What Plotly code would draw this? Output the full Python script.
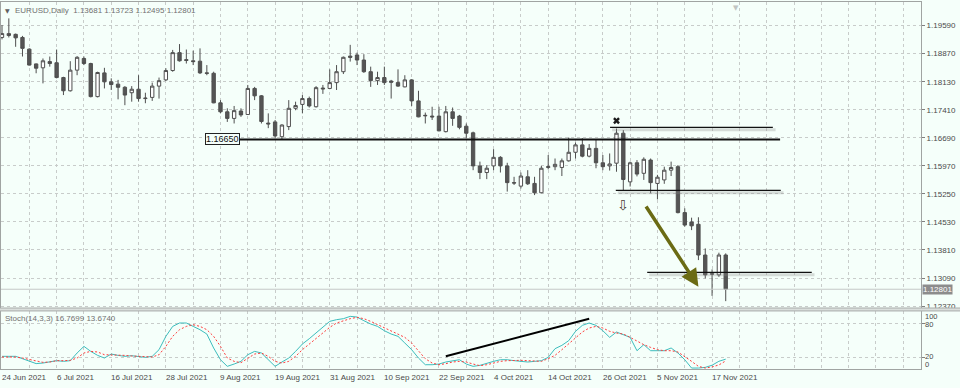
import plotly.graph_objects as go

# ---------------- data ----------------
date_labels = ["24 Jun 2021", "6 Jul 2021", "16 Jul 2021", "28 Jul 2021", "9 Aug 2021",
               "19 Aug 2021", "31 Aug 2021", "10 Sep 2021", "22 Sep 2021", "4 Oct 2021",
               "14 Oct 2021", "26 Oct 2021", "5 Nov 2021", "17 Nov 2021"]
date_label_bars = [0, 8, 16, 24, 32, 40, 48, 56, 64, 72, 80, 88, 96, 104]

opens = [1.1927, 1.1932, 1.1935, 1.1927, 1.1897, 1.1859, 1.1849, 1.1865, 1.1862, 1.1824,
         1.1790, 1.1843, 1.1873, 1.1860, 1.1775, 1.1836, 1.1813, 1.1807, 1.1799, 1.1785,
         1.1794, 1.1770, 1.1773, 1.1802, 1.1818, 1.1842, 1.1888, 1.1870, 1.1867, 1.1866,
         1.1836, 1.1835, 1.1759, 1.1736, 1.1719, 1.1738, 1.1729, 1.1796, 1.1777, 1.1707,
         1.1710, 1.1672, 1.1698, 1.1745, 1.1755, 1.1770, 1.1749, 1.1797, 1.1796, 1.1811,
         1.1839, 1.1879, 1.1882, 1.1869, 1.1839, 1.1816, 1.1824, 1.1815, 1.1811, 1.1800,
         1.1818, 1.1764, 1.1727, 1.1725, 1.1725, 1.1685, 1.1736, 1.1725, 1.1699, 1.1682,
         1.1597, 1.1580, 1.1597, 1.1619, 1.1597, 1.1554, 1.1545, 1.1569, 1.1552, 1.1528,
         1.1593, 1.1595, 1.1593, 1.1610, 1.1632, 1.1651, 1.1622, 1.1642, 1.1605, 1.1597,
         1.1604, 1.1681, 1.1556, 1.1605, 1.1578, 1.1612, 1.1552, 1.1561, 1.1586, 1.1595,
         1.1477, 1.1453, 1.1447, 1.1368, 1.1320, 1.1317, 1.13681]
highs = [1.1959, 1.1976, 1.1937, 1.1931, 1.1899, 1.1860, 1.1873, 1.1878, 1.1896, 1.1826,
         1.1866, 1.1879, 1.1878, 1.1862, 1.1839, 1.1849, 1.1822, 1.1818, 1.1802, 1.1802,
         1.1830, 1.1785, 1.1811, 1.1824, 1.1848, 1.1895, 1.1910, 1.1896, 1.1893, 1.1899,
         1.1856, 1.1839, 1.1766, 1.1745, 1.1751, 1.1745, 1.1805, 1.1800, 1.1779, 1.1732,
         1.1715, 1.1704, 1.1766, 1.1762, 1.1779, 1.1775, 1.1802, 1.1805, 1.1845, 1.1856,
         1.1878, 1.1908, 1.1888, 1.1884, 1.1852, 1.1839, 1.1852, 1.1818, 1.1845, 1.1830,
         1.1820, 1.1790, 1.1734, 1.1749, 1.1749, 1.1751, 1.1747, 1.1728, 1.1706, 1.1685,
         1.1608, 1.1599, 1.1640, 1.1622, 1.1605, 1.1569, 1.1580, 1.1586, 1.1569, 1.1597,
         1.1625, 1.1616, 1.1616, 1.1670, 1.1657, 1.1668, 1.1653, 1.1664, 1.1625, 1.1629,
         1.1693, 1.1689, 1.1608, 1.1612, 1.1619, 1.1616, 1.1574, 1.1595, 1.1608, 1.1599,
         1.1488, 1.1464, 1.1465, 1.1385, 1.1331, 1.1374, 1.13723]
lows = [1.1922, 1.1927, 1.1903, 1.1878, 1.1855, 1.1835, 1.1809, 1.1852, 1.1822, 1.1779,
        1.1788, 1.1830, 1.1856, 1.1773, 1.1773, 1.1796, 1.1792, 1.1768, 1.1753, 1.1762,
        1.1762, 1.1758, 1.1764, 1.1770, 1.1815, 1.1839, 1.1865, 1.1860, 1.1856, 1.1833,
        1.1830, 1.1758, 1.1732, 1.1710, 1.1706, 1.1723, 1.1728, 1.1766, 1.1706, 1.1694,
        1.1668, 1.1664, 1.1689, 1.1740, 1.1732, 1.1747, 1.1747, 1.1782, 1.1794, 1.1792,
        1.1833, 1.1865, 1.1856, 1.1836, 1.1800, 1.1805, 1.1805, 1.1770, 1.1800, 1.1799,
        1.1751, 1.1722, 1.1706, 1.1715, 1.1686, 1.1683, 1.1700, 1.1691, 1.1668, 1.1586,
        1.1563, 1.1563, 1.1586, 1.1580, 1.1531, 1.1548, 1.1539, 1.1548, 1.1522, 1.1527,
        1.1588, 1.1586, 1.1571, 1.1608, 1.1616, 1.1619, 1.1619, 1.1591, 1.1586, 1.1585,
        1.1582, 1.1535, 1.1544, 1.1570, 1.1561, 1.1527, 1.1511, 1.1551, 1.1571, 1.1475,
        1.1441, 1.1432, 1.1355, 1.1308, 1.1263, 1.1312, 1.12495]
closes = [1.1937, 1.1937, 1.1926, 1.1899, 1.1856, 1.1848, 1.1867, 1.1860, 1.1824, 1.1790,
          1.1843, 1.1876, 1.1860, 1.1775, 1.1837, 1.1813, 1.1806, 1.1799, 1.1779, 1.1794,
          1.1770, 1.1771, 1.1802, 1.1816, 1.1842, 1.1888, 1.1867, 1.1868, 1.1865, 1.1836,
          1.1835, 1.1759, 1.1736, 1.1719, 1.1739, 1.1728, 1.1796, 1.1777, 1.1711, 1.1705,
          1.1674, 1.1702, 1.1745, 1.1752, 1.1770, 1.1751, 1.1798, 1.1795, 1.1811, 1.1839,
          1.1876, 1.1876, 1.1869, 1.1839, 1.1816, 1.1824, 1.1811, 1.1812, 1.1802, 1.1818,
          1.1764, 1.1723, 1.1726, 1.1723, 1.1687, 1.1736, 1.1719, 1.1696, 1.1681, 1.1597,
          1.1580, 1.1591, 1.1619, 1.1597, 1.1554, 1.1553, 1.1571, 1.1551, 1.1528, 1.1591,
          1.1595, 1.1601, 1.1610, 1.1632, 1.1651, 1.1622, 1.1642, 1.1605, 1.1595, 1.1602,
          1.1681, 1.1562, 1.1605, 1.1576, 1.1614, 1.1554, 1.1568, 1.1586, 1.1593, 1.1477,
          1.1445, 1.1443, 1.1368, 1.1317, 1.1319, 1.1368, 1.12801]

stoch_k = [21.8, 21.8, 21.8, 17.6, 12.9, 8.9, 9.9, 11.7, 14.1, 12.9,
           14.1, 27.7, 39.5, 30.6, 23.5, 18.8, 25.9, 23.5, 21.8, 22.9,
           21.8, 20.0, 21.8, 33.6, 57.3, 75.0, 81.0, 81.0, 75.0, 69.1,
           61.4, 36.6, 15.8, 4.0, 8.1, 12.9, 24.7, 30.6, 27.7, 15.8,
           4.0, 11.7, 18.8, 30.6, 43.7, 53.1, 63.2, 75.0, 83.9, 86.9,
           88.7, 92.8, 91.6, 85.1, 79.2, 75.0, 67.3, 61.4, 57.3, 45.4,
           33.6, 18.8, 6.9, 6.9, 8.1, 11.7, 14.1, 15.8, 8.1, 4.0,
           5.8, 9.9, 12.9, 15.8, 15.8, 14.1, 12.9, 11.7, 12.9, 14.1,
           20.0, 35.4, 41.3, 49.6, 66.2, 76.8, 81.0, 76.8, 67.3, 55.5,
           65.0, 60.2, 55.5, 31.8, 42.5, 31.8, 31.8, 31.8, 36.6, 27.7,
           15.8, 1.0, 1.0, 2.2, 6.0, 13.0, 16.7699]
stoch_d = [20.6, 20.6, 20.6, 18.8, 15.8, 12.9, 11.1, 11.7, 14.1, 14.1,
           14.7, 18.8, 27.7, 30.6, 29.5, 24.7, 24.7, 23.5, 23.5, 22.4,
           21.8, 21.2, 20.6, 24.7, 39.5, 57.3, 69.1, 75.0, 78.0, 75.0,
           69.1, 57.3, 39.5, 18.8, 12.9, 10.5, 18.8, 25.9, 27.7, 21.8,
           12.9, 9.9, 12.9, 21.8, 33.6, 43.7, 54.3, 63.2, 73.3, 81.0,
           85.1, 88.7, 91.0, 88.7, 83.9, 78.0, 72.1, 66.2, 61.4, 55.5,
           45.4, 31.8, 17.6, 9.9, 6.9, 8.7, 11.7, 12.9, 11.7, 8.1,
           5.2, 6.9, 9.9, 12.9, 14.1, 14.7, 14.7, 14.1, 12.9, 12.9,
           17.6, 23.5, 33.6, 43.7, 54.3, 65.0, 72.1, 75.0, 72.1, 66.2,
           63.2, 61.4, 55.5, 48.4, 42.5, 37.7, 33.6, 31.8, 31.8, 29.5,
           21.8, 12.9, 4.0, 1.0, 3.0, 6.5, 13.6740]

price_ticks = [1.19590, 1.18870, 1.18130, 1.17410, 1.16690, 1.15970,
               1.15250, 1.14530, 1.13810, 1.13090, 1.12370]
stoch_ticks = [100, 80, 20, 0]

# drawn objects (levels and bar spans)
support_level = 1.16650
support_span = (34.86, 113.96)
thin_levels = [1.1696, 1.1534, 1.13236]
thin_spans = [(89.06, 112.9), (89.9, 114.06), (94.5, 118.6)]
arrow_from = (94.19, 1.14965)
arrow_to = (102.0, 1.12866)
cross_mark = (90, 1.1713)
sell_arrow = (91, 1.14965)
stoch_trend = ((65.0, 21.8), (86.0, 88.6))
last_close = closes[-1]
title_text = "EURUSD,Daily  1.13681 1.13723 1.12495 1.12801"
stoch_text = "Stoch(14,3,3) 16.7699 13.6740"

bars = list(range(len(opens)))

# ---------------- figure ----------------
BG = "#F5FFFA"
GRID = "#C8CCCA"
FONT = "Liberation Sans, Arial, sans-serif"
TXT = "#4a4a4a"

fig = go.Figure()
fig.add_trace(go.Candlestick(
    x=bars, open=opens, high=highs, low=lows, close=closes,
    increasing=dict(line=dict(color="#4f4f4f", width=1), fillcolor="#ffffff"),
    decreasing=dict(line=dict(color="#4f4f4f", width=1), fillcolor="#555555"),
    whiskerwidth=0, hoverinfo="skip", showlegend=False, xaxis="x", yaxis="y"))

fig.add_trace(go.Scatter(x=bars, y=stoch_k, mode="lines",
                         line=dict(color="#3DBDBD", width=1), hoverinfo="skip",
                         showlegend=False, xaxis="x2", yaxis="y2"))
fig.add_trace(go.Scatter(x=bars, y=stoch_d, mode="lines",
                         line=dict(color="#FF3C3C", width=1, dash="2px,2px"), hoverinfo="skip",
                         showlegend=False, xaxis="x2", yaxis="y2"))
fig.add_trace(go.Scatter(x=[stoch_trend[0][0], stoch_trend[1][0]],
                         y=[stoch_trend[0][1], stoch_trend[1][1]], mode="lines",
                         line=dict(color="#000000", width=2), hoverinfo="skip",
                         showlegend=False, xaxis="x2", yaxis="y2"))
fig.add_trace(go.Scatter(x=[cross_mark[0]], y=[cross_mark[1]], mode="markers",
                         marker=dict(symbol="x", size=6, color="#1a1a1a"),
                         hoverinfo="skip", showlegend=False, xaxis="x", yaxis="y"))

shapes = []
# last price line
shapes.append(dict(type="line", xref="x domain", yref="y", x0=0, x1=1,
                   y0=last_close, y1=last_close, line=dict(color="#C4C8C6", width=1)))
# support line
shapes.append(dict(type="line", xref="x", yref="y", x0=support_span[0], x1=support_span[1],
                   y0=support_level, y1=support_level, line=dict(color="#111111", width=2)))
# thin lines with soft shadow
for lvl, (a, b) in zip(thin_levels, thin_spans):
    shapes.append(dict(type="line", xref="x", yref="y", x0=a + 0.3, x1=b + 0.4,
                       y0=lvl - 0.0006, y1=lvl - 0.0006,
                       line=dict(color="rgba(140,140,140,0.30)", width=3)))
    shapes.append(dict(type="line", xref="x", yref="y", x0=a, x1=b, y0=lvl, y1=lvl,
                       line=dict(color="#111111", width=1.2)))
# panel separator
shapes.append(dict(type="rect", xref="paper", yref="paper", x0=-0.01, x1=1.05,
                   y0=0.1582, y1=0.1662, fillcolor="#DADFDC",
                   line=dict(color="#A8ACAA", width=1), layer="above"))

annotations = []
annotations.append(dict(xref="paper", yref="paper", x=0, y=0.978, xanchor="left", yanchor="middle",
                        xshift=2, text="▼", showarrow=False,
                        font=dict(family="DejaVu Sans", size=6, color="#606060")))
annotations.append(dict(xref="paper", yref="paper", x=0, y=0.978, xanchor="left", yanchor="middle",
                        xshift=12, text=title_text, showarrow=False,
                        font=dict(family=FONT, size=8, color="#707070")))
annotations.append(dict(xref="paper", yref="paper", x=0, y=0.1376, xanchor="left", yanchor="middle",
                        xshift=2, text=stoch_text, showarrow=False,
                        font=dict(family=FONT, size=8, color="#707070")))
# stoch level labels
for val, py in zip(stoch_ticks, [0.1425, 0.1226, 0.0330, 0.0125]):
    annotations.append(dict(xref="paper", yref="paper", x=1, y=py, xanchor="left",
                            yanchor="middle", xshift=2, text=str(val), showarrow=False,
                            font=dict(family=FONT, size=7.5, color=TXT)))
# date labels
for lab, b in zip(date_labels, date_label_bars):
    annotations.append(dict(xref="x2", yref="paper", x=b, y=-0.0234, xanchor="left",
                            yanchor="middle", xshift=-2, text=lab, showarrow=False,
                            font=dict(family=FONT, size=8, color=TXT)))
# support label box
annotations.append(dict(xref="x", yref="y", x=support_span[0], y=support_level,
                        xanchor="right", yanchor="middle", text="1.16650", showarrow=False,
                        bgcolor=BG, bordercolor="#222222", borderwidth=1, borderpad=0,
                        font=dict(family=FONT, size=9, color="#111111")))
# last price box
annotations.append(dict(xref="paper", yref="y", x=1, y=last_close, xanchor="left",
                        yanchor="middle", xshift=1, text="1.12801", showarrow=False,
                        bgcolor="#8C8C8C", borderpad=0,
                        font=dict(family=FONT, size=8, color="#ffffff")))
# sell arrow symbol
annotations.append(dict(xref="x", yref="y", x=sell_arrow[0], y=sell_arrow[1],
                        text="⇩", showarrow=False,
                        font=dict(family="DejaVu Sans", size=14, color="#4a4038")))
# olive arrow
annotations.append(dict(xref="x", yref="y", x=arrow_to[0], y=arrow_to[1],
                        axref="x", ayref="y", ax=arrow_from[0], ay=arrow_from[1],
                        text="", showarrow=True, arrowhead=2, arrowsize=1.0,
                        arrowwidth=3.5, arrowcolor="#6B6B14", standoff=0, startstandoff=0))
# chart-shift marker
annotations.append(dict(xref="x", yref="paper", x=107.5, y=1.0, yanchor="top",
                        text="▼", showarrow=False,
                        font=dict(family="DejaVu Sans", size=7, color="#C0C4C2")))

grid_bars = list(range(4, 135, 4))

axis_common = dict(showline=True, mirror=True, linecolor="#A0A4A2", linewidth=1,
                   zeroline=False, gridcolor=GRID, griddash="3px,3px", gridwidth=1,
                   automargin=False)

fig.update_layout(
    width=960, height=388,
    margin=dict(l=1, r=39, t=2, b=19, pad=0),
    paper_bgcolor=BG, plot_bgcolor=BG,
    showlegend=False,
    xaxis=dict(domain=[0, 1], anchor="y", range=[-0.146, 134.6],
               tickmode="array", tickvals=grid_bars, showticklabels=False, ticks="",
               showgrid=True, rangeslider=dict(visible=False), **axis_common),
    xaxis2=dict(domain=[0, 1], anchor="y2", range=[-0.146, 134.6], matches="x",
                tickmode="array", tickvals=grid_bars, showticklabels=False, ticks="",
                showgrid=True, **axis_common),
    yaxis=dict(domain=[0.1662, 1], range=[1.12319, 1.20181], side="right",
               tickmode="array", tickvals=price_ticks,
               ticktext=[f"{v:.5f}" for v in price_ticks],
               ticks="outside", ticklen=3, tickcolor="#808080",
               tickfont=dict(family=FONT, size=8, color=TXT),
               showgrid=True, **axis_common),
    yaxis2=dict(domain=[0, 0.158], range=[-0.7, 102.3], side="right",
                tickmode="array", tickvals=[20, 80], showticklabels=False,
                ticks="outside", ticklen=3, tickcolor="#808080",
                showgrid=True, **axis_common),
    shapes=shapes, annotations=annotations,
)

fig.write_html("out.html", config={"displayModeBar": False},
               post_script="document.body.style.margin='0px';document.body.style.background='%s';" % BG)
